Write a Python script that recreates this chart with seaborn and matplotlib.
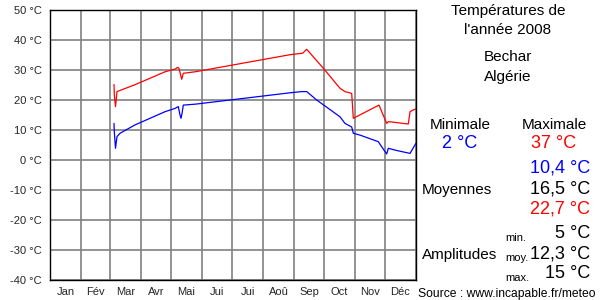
import matplotlib
matplotlib.use("Agg")
import matplotlib.pyplot as plt
import seaborn as sns
import pandas as pd

# ---- data (day of year 2008, °C) ----
days_max = [64, 64.3, 65.5, 67, 85, 115, 125, 127.7, 129, 131.7, 133.3, 145, 240,
            252.7, 256.7, 273.3, 290, 295, 301.7, 303.3, 329, 336.7, 338.3, 358.3,
            360, 363.3, 366]
temp_max = [25.2, 21.7, 17.8, 22.8, 25.1, 29.4, 30.3, 30.9, 30.5, 26.9, 28.9, 29.4, 35.1,
            35.6, 36.9, 30.6, 23.9, 22.8, 22.2, 13.9, 18.3, 12.2, 12.8, 12.0,
            16.1, 16.7, 17.0]
days_min = [64, 64.3, 65.5, 67, 70, 85, 115, 125, 128.3, 130, 131, 132, 133.3, 145,
            240, 251.7, 256.7, 266.7, 290, 295, 301.7, 303.3, 310, 328.3, 335, 336.7,
            338.3, 345, 360, 366]
temp_min = [12.2, 9.4, 3.9, 7.8, 8.9, 11.7, 16.1, 17.2, 17.8, 15.0, 13.9, 15.5, 18.3, 18.6,
            22.4, 22.8, 22.8, 20.0, 14.4, 12.2, 11.0, 8.9, 8.3, 6.1, 2.8, 2.0,
            3.9, 3.3, 2.2, 5.6]

month_starts = [0, 31, 60, 91, 121, 152, 182, 213, 244, 274, 305, 335, 366]
month_labels = ["Jan", "Fév", "Mar", "Avr", "Mai", "Jui", "Jui", "Aoû", "Sep",
                "Oct", "Nov", "Déc"]
y_ticks = [-40, -30, -20, -10, 0, 10, 20, 30, 40, 50]
y_labels = [f"{v} °C" for v in y_ticks]

title_lines = ["Températures de", "l'année 2008"]
place_lines = ["Bechar", "Algérie"]
stat_min = "2 °C"
stat_max = "37 °C"
means = ["10,4 °C", "16,5 °C", "22,7 °C"]
ampl_labels = ["min.", "moy.", "max."]
ampl_values = ["5 °C", "12,3 °C", "15 °C"]
source = "Source : www.incapable.fr/meteo"

# ---- style ----
sns.set_style("white")
plt.rcParams["font.family"] = ["Liberation Sans", "DejaVu Sans"]

df = pd.concat([
    pd.DataFrame({"day": days_max, "temp": temp_max, "serie": "max"}),
    pd.DataFrame({"day": days_min, "temp": temp_min, "serie": "min"}),
])

fig = plt.figure(figsize=(6, 3), dpi=100)
ax = fig.add_axes([50 / 600, 1 - 280 / 300, 366 / 600, 270 / 300])

sns.lineplot(data=df, x="day", y="temp", hue="serie",
             palette={"max": "#ff0000", "min": "#0000ff"},
             estimator=None, sort=False, legend=False, linewidth=0.9, ax=ax)

ax.set_xlim(0, 366)
ax.set_ylim(-40, 50)
ax.set_xticks(month_starts)
ax.set_xticklabels([])
centers = [(month_starts[i] + month_starts[i + 1]) / 2 for i in range(12)]
ax.set_xticks(centers, minor=True)
ax.set_xticklabels(month_labels, minor=True, fontsize=8)
ax.set_yticks(y_ticks)
ax.set_yticklabels(y_labels, fontsize=8)
ax.tick_params(axis="both", which="both", length=0)
ax.tick_params(axis="x", which="minor", pad=5)
ax.tick_params(axis="y", pad=6)
ax.set_xlabel("")
ax.set_ylabel("")
ax.grid(True, which="major", color="#808080", linewidth=1.2)
ax.set_axisbelow(True)
for s in ax.spines.values():
    s.set_color("black")
    s.set_linewidth(1.0)

# ---- right panel ----
def px(x, y):
    return x / 600, 1 - y / 300

def txt(x, y, s, size, color="black", ha="center", va="center"):
    fig.text(*px(x, y), s, fontsize=size, color=color, ha=ha, va=va)

txt(508, 11, title_lines[0], 11)
txt(508, 30, title_lines[1], 11)
txt(508, 57, place_lines[0], 11)
txt(508, 77, place_lines[1], 11)
txt(460, 125, "Minimale", 11)
txt(554, 125, "Maximale", 11)
txt(460, 144, stat_min, 13, color="#0000ff")
txt(554, 144, stat_max, 13, color="#ff0000")
txt(590, 168, means[0], 13, color="#0000ff", ha="right")
txt(590, 189, means[1], 13, color="black", ha="right")
txt(590, 209, means[2], 13, color="#ff0000", ha="right")
txt(457, 190, "Moyennes", 11)
txt(460, 255, "Amplitudes", 11)
for yy, lab, val in zip([237, 257, 277], ampl_labels, ampl_values):
    txt(505, yy + 1, lab, 8, ha="left")
    txt(590, yy - 3, val, 13, ha="right")
txt(596, 294, source, 8.7, ha="right")

fig.savefig("out.png", dpi=100)
